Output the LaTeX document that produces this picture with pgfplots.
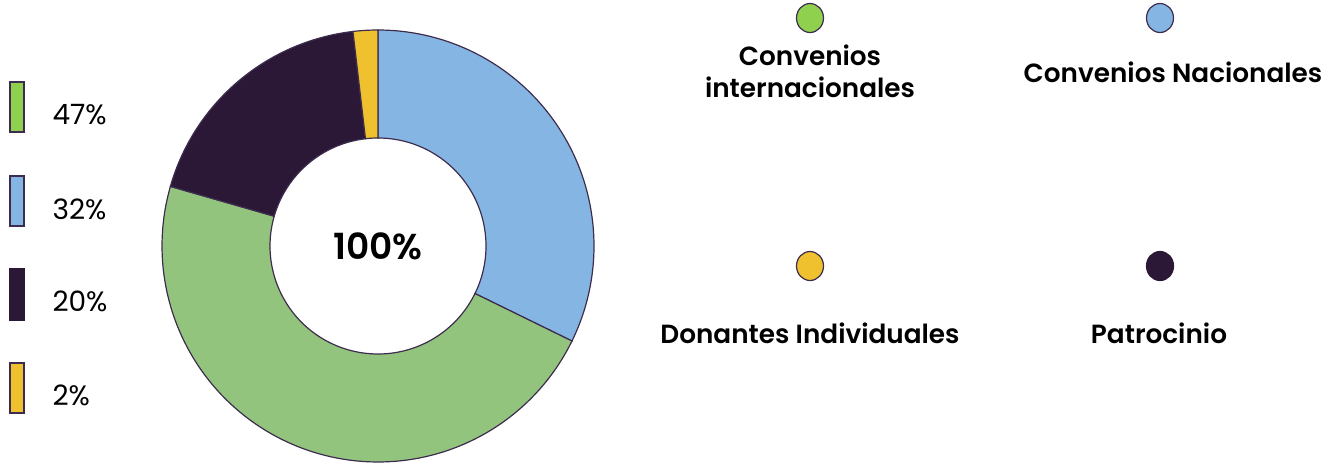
\documentclass[border=0pt]{standalone}
\usepackage{pgfplots}
\pgfplotsset{compat=1.18}
\usepackage{pgfplotstable}
\usepackage{fontspec}
\setmainfont{Poppins}[BoldFont={Poppins SemiBold}]
\definecolor{cgreen}{HTML}{93C47D}
\definecolor{cgreenL}{HTML}{8FD14F}
\definecolor{cblue}{HTML}{85B6E3}
\definecolor{cdark}{HTML}{2B1736}
\definecolor{cyellow}{HTML}{F0C12E}
\definecolor{cline}{HTML}{3D2C4E}

% share of the full circle (%), clockwise from 12 o'clock
\pgfplotstableread{
label share
Nacionales 32.25
Internacionales 47.2
Patrocinio 18.7
Donantes 1.85
}\shares

\pgfplotstablegetelem{0}{share}\of\shares \let\sA\pgfplotsretval
\pgfplotstablegetelem{1}{share}\of\shares \let\sB\pgfplotsretval
\pgfplotstablegetelem{2}{share}\of\shares \let\sC\pgfplotsretval
\pgfplotstablegetelem{3}{share}\of\shares \let\sD\pgfplotsretval
\pgfmathsetmacro{\aA}{-90}
\pgfmathsetmacro{\aB}{\aA+3.6*\sA}
\pgfmathsetmacro{\aC}{\aB+3.6*\sB}
\pgfmathsetmacro{\aD}{\aC+3.6*\sC}
\pgfmathsetmacro{\aE}{\aD+3.6*\sD}

\def\cx{378}\def\cy{246}\def\Ro{216}\def\Ri{108}
% wedge from angle #1 to #2
\newcommand{\donutwedge}[3]{%
\addplot[fill=#3, draw=cline, line width=1.2pt, variable=\t, domain=0:2.2, samples=221]
 ({\cx+(\Ro-(\Ro-\Ri)*min(1,max(0,(\t-1)/0.2)))*cos(#1+(#2-#1)*(min(\t,1)-min(1,max(0,\t-1.2))))},
  {\cy+(\Ro-(\Ro-\Ri)*min(1,max(0,(\t-1)/0.2)))*sin(#1+(#2-#1)*(min(\t,1)-min(1,max(0,\t-1.2))))}) -- cycle;}

\begin{document}
\begin{tikzpicture}
\begin{axis}[
  scale only axis, width=1339pt, height=464pt,
  xmin=0, xmax=1339, ymin=0, ymax=464, y dir=reverse,
  hide axis, clip=false]
\path (rel axis cs:0,0) rectangle (rel axis cs:1,1);
\donutwedge{\aA}{\aB}{cblue}
\donutwedge{\aB}{\aC}{cgreen}
\donutwedge{\aC}{\aD}{cdark}
\donutwedge{\aD}{\aE}{cyellow}
\node[font=\fontsize{36}{40}\selectfont\bfseries] at (axis cs:378,246) {100\%};

% left legend
\draw[cline, line width=1.2pt, fill=cgreenL] (axis cs:10,82) rectangle (axis cs:24,132);
\draw[cline, line width=1.2pt, fill=cblue] (axis cs:10,176) rectangle (axis cs:24,226);
\draw[cdark, line width=1.2pt, fill=cdark] (axis cs:10,269) rectangle (axis cs:24,320);
\draw[cline, line width=1.2pt, fill=cyellow] (axis cs:10,363) rectangle (axis cs:24,413);
\node[anchor=west, font=\fontsize{28}{30}\selectfont] at (axis cs:49,115) {47\%};
\node[anchor=west, font=\fontsize{28}{30}\selectfont] at (axis cs:49,209) {32\%};
\node[anchor=west, font=\fontsize{28}{30}\selectfont] at (axis cs:49,301) {20\%};
\node[anchor=west, font=\fontsize{28}{30}\selectfont] at (axis cs:49,395) {2\%};

% right legend
\draw[cline, line width=1.2pt, fill=cgreenL] (axis cs:810,18) ellipse [x radius=13.5, y radius=14.5];
\draw[cline, line width=1.2pt, fill=cblue] (axis cs:1160,18) ellipse [x radius=13.5, y radius=14.5];
\draw[cline, line width=1.2pt, fill=cyellow] (axis cs:810,266) ellipse [x radius=13.5, y radius=14.5];
\draw[cdark, line width=1.2pt, fill=cdark] (axis cs:1160,266) ellipse [x radius=13.5, y radius=14.5];
\node[align=center, font=\fontsize{26.3}{32}\selectfont\bfseries] at (axis cs:810,71) {Convenios\\internacionales};
\node[font=\fontsize{26.3}{30}\selectfont\bfseries] at (axis cs:1173,72) {Convenios Nacionales};
\node[font=\fontsize{26.3}{30}\selectfont\bfseries] at (axis cs:810,333) {Donantes Individuales};
\node[font=\fontsize{26.3}{30}\selectfont\bfseries] at (axis cs:1159,333) {Patrocinio};
\end{axis}
\end{tikzpicture}
\end{document}
